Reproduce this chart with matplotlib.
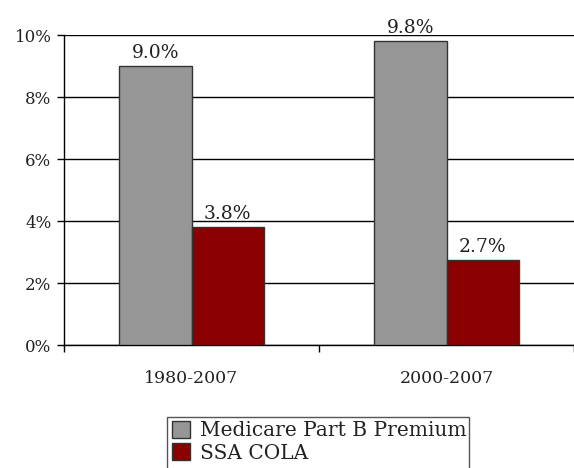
import matplotlib
matplotlib.use("Agg")
import matplotlib.pyplot as plt
from matplotlib.patches import Patch, Rectangle
import numpy as np

categories = ["1980-2007", "2000-2007"]
series_names = ["Medicare Part B Premium", "SSA COLA"]
medicare = [9.0, 9.8]
ssa = [3.8, 2.75]
value_labels = [["9.0%", "9.8%"], ["3.8%", "2.7%"]]
yticks = [0, 2, 4, 6, 8, 10]
ytick_labels = ["0%", "2%", "4%", "6%", "8%", "10%"]

colors = ["#969696", "#8b0000"]
edge = "#333333"
txt = "#222222"

plt.rcParams['font.family'] = ['DejaVu Serif']

W, H = 574, 468
fig = plt.figure(figsize=(W/100, H/100), dpi=100)
ax = fig.add_axes([64/W, 1-345/H, 1-64/W, 310/H])

x = np.arange(len(categories))
w = 0.285
for i, (vals, c) in enumerate(zip([medicare, ssa], colors)):
    pos = x - w/2 + i*w
    ax.bar(pos, vals, width=w, color=c, edgecolor=edge, linewidth=1, zorder=3)
    for p, v, lab in zip(pos, vals, value_labels[i]):
        ax.annotate(lab, (p, v), xytext=(0, 3), textcoords="offset points",
                    ha="center", va="bottom", fontsize=13.5, color=txt)

ax.set_xlim(-0.5, 1.5)
ax.set_ylim(0, 10)
ax.set_yticks(yticks)
ax.set_yticklabels(ytick_labels, fontsize=12, color=txt)
ax.yaxis.grid(True, color="black", linewidth=1)
ax.set_axisbelow(True)

ax.set_xticks([-0.5, 0.5, 1.5])
ax.set_xticklabels(["", "", ""])
ax.set_xticks(x, minor=True)
ax.set_xticklabels(categories, minor=True, fontsize=12.5, color=txt)
ax.tick_params(axis="x", which="minor", length=0, pad=18)
ax.tick_params(axis="x", which="major", length=5, width=1, direction="out")
ax.tick_params(axis="y", length=5, width=1, direction="out", pad=4)

for s in ["top", "right"]:
    ax.spines[s].set_visible(False)
for s in ["left", "bottom"]:
    ax.spines[s].set_color("black")
    ax.spines[s].set_linewidth(1)

# legend frame (runs past the bottom edge, as in the reference)
fig.patches.append(Rectangle((167/W, -10/H), (469-167)/W, (H-417+10)/H,
                             transform=fig.transFigure, facecolor="white",
                             edgecolor="#555555", linewidth=1, zorder=1))

handles = [Patch(facecolor=c, edgecolor=edge, linewidth=1) for c in colors]
leg = fig.legend(handles, series_names, loc="upper left",
                 bbox_to_anchor=(172/W, 1-421/H), fontsize=14.5,
                 frameon=False, borderpad=0, labelspacing=0.15,
                 handlelength=0.9, handleheight=0.9, handletextpad=0.5,
                 borderaxespad=0)
leg.set_zorder(5)
for t in leg.get_texts():
    t.set_color(txt)

fig.savefig("out.png", dpi=100)
